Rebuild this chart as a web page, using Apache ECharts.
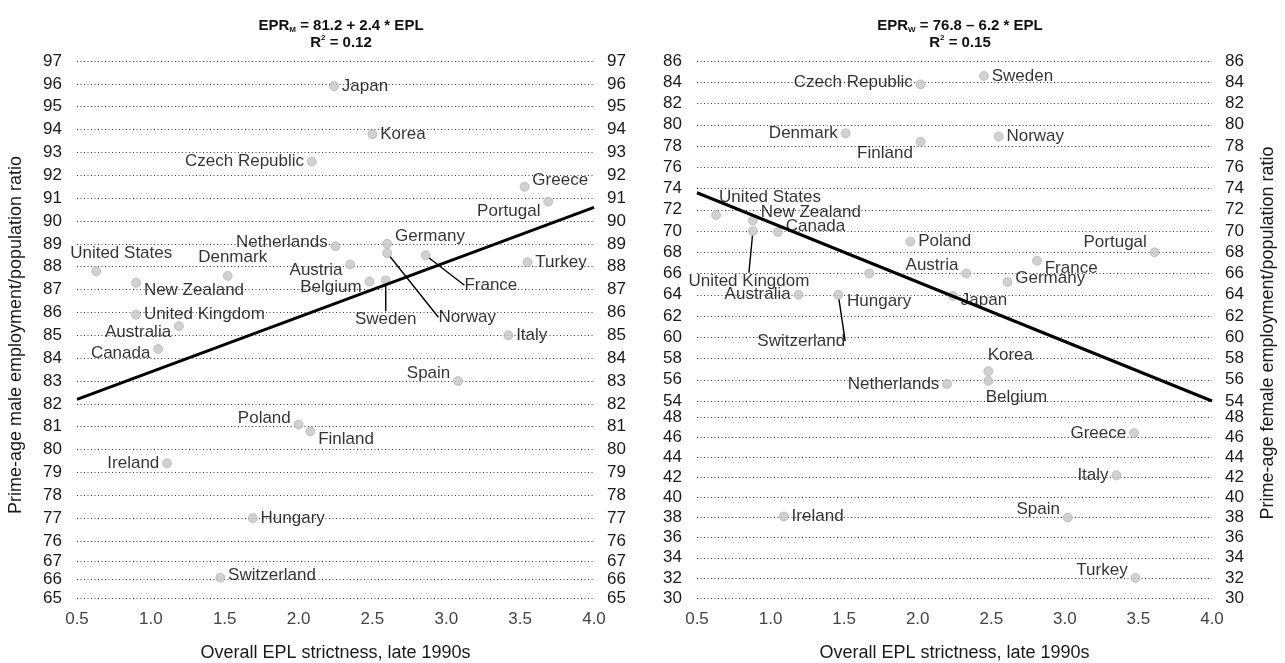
<!DOCTYPE html>
<html><head><meta charset="utf-8">
<script src="https://cdn.jsdelivr.net/npm/echarts@6/dist/echarts.min.js"></script>
<style>html,body{margin:0;padding:0;background:#fff}#c{width:1285px;height:663px}</style>
</head><body><div id="c"></div>
<script>
// ---------- DATA ----------
const countries = ['Japan','Korea','Czech Republic','Greece','Portugal','Netherlands','Germany','France','Turkey','United States','Denmark','Austria','Belgium','Sweden','Norway','New Zealand','United Kingdom','Australia','Italy','Canada','Spain','Poland','Finland','Ireland','Hungary','Switzerland'];
const maleEPL   = [2.24,2.50,2.09,3.53,3.69,2.25,2.60,2.86,3.55,0.63,1.52,2.35,2.48,2.59,2.60,0.90,0.90,1.19,3.42,1.05,3.08,2.00,2.08,1.11,1.69,1.47];
const maleEPR   = [95.9,93.8,92.6,91.5,90.85,88.9,89.0,88.5,88.2,87.8,87.6,88.1,87.35,87.4,88.6,87.3,85.9,85.4,85.0,84.4,83.0,81.1,80.8,79.4,77.0,66.1];
const femaleEPL = [2.24,2.48,2.02,3.47,3.61,2.20,2.61,2.81,3.48,0.63,1.51,2.33,2.48,2.45,2.55,0.88,0.88,1.19,3.35,1.05,3.02,1.95,2.02,1.09,1.67,1.46];
const femaleEPR = [63.9,56.8,83.8,46.4,68.0,55.6,65.2,67.2,32.0,71.5,79.2,66.0,55.9,84.6,78.9,71.0,70.0,64.0,42.2,69.9,38.0,69.0,78.4,38.1,66.0,64.0];
// broken y axes: lower and upper segments, tick step
const maleLowerRange   = [65,67];
const maleUpperRange   = [76,97];
const femaleLowerRange = [30,48];
const femaleUpperRange = [54,86];
const maleStep = 1, femaleStep = 2;
const xRange = [0.5,4.0], xStep = 0.5;
const maleFit   = [[0.5,82.2],[4.0,90.6]];
const femaleFit = [[0.5,73.6],[4.0,54.0]];

// ---------- LABEL LAYOUT (style only) ----------
// [position, dx, dy, guideLine]
const maleLbl = [
 ['right',0,0],['right',0,0],['left',0,0],['right',0,-6],['left',0,10],['left',0,-4],['right',0,-8],['right',31,30,1],
 ['right',0,0],['top',25,-2],['top',5,-2],['left',0,6],['left',0,6],['bottom',0,23,1],['bottom',80,48,1],
 ['right',0,8],['right',0,0],['left',0,6],['right',0,0],['left',0,4],['left',0,-8],['left',0,-6],['right',0,8],
 ['left',0,0],['right',0,0],['right',0,-2]];
const femaleLbl = [
 ['right',0,4],['top',22,0],['left',0,-2],['left',0,0],['left',0,-10],['left',0,0],['right',0,-4],['right',0,8],
 ['left',0,-8],['right',-5,-18],['left',0,0],['left',0,-8],['bottom',28,0],['right',0,0],['right',0,0],
 ['right',0,-8],['bottom',-4,34,1],['left',0,0],['left',0,0],['right',0,-6],['left',0,-8],['right',0,0],['left',0,12],
 ['right',0,0],['bottom',10,12],['bottom',-37,30,1]];

// ---------- helpers ----------
const NARROW = "'Liberation Sans Narrow','Arial Narrow','Liberation Sans',sans-serif";
const SANS = "'Liberation Sans',Arial,sans-serif";

function yAx(gi, range, step, side){
  return {
    type:'value', gridIndex:gi, position:side, min:range[0], max:range[1], interval:step,
    axisLine:{show:false}, axisTick:{show:false},
    axisLabel:{fontFamily:NARROW, fontSize:17, color:'#1a1a1a', margin:side==='left'?15:13},
    splitLine:{show:side==='left', lineStyle:{type:[1,2.5], color:'#3a3a3a', width:1}}
  };
}
function xAx(gi, showLabels){
  return {
    type:'value', gridIndex:gi, min:xRange[0], max:xRange[1], interval:xStep,
    axisLine:{show:false}, axisTick:{show:false}, splitLine:{show:false},
    axisLabel:{show:showLabels, formatter:v=>v.toFixed(1), fontFamily:NARROW, fontSize:17, color:'#444', margin:13},
    name: showLabels ? 'Overall EPL strictness, late 1990s' : '', nameLocation:'middle', nameGap:46,
    nameTextStyle:{fontFamily:SANS, fontSize:18, color:'#1a1a1a'}
  };
}
function scatter(ai, idxs, xs, ys, lbl){
  return {
    type:'scatter', xAxisIndex:ai.x, yAxisIndex:ai.y, symbol:'circle', symbolSize:9, z:3,
    itemStyle:{color:'#c6c6c6', borderColor:'#9a9a9a', borderWidth:0.6},
    data: idxs.map(i=>({
      value:[xs[i], ys[i]], name:countries[i],
      label:{show:true, position:lbl[i][0], distance:3, formatter:countries[i],
             fontFamily:SANS, fontSize:17, color:'#000'},
      labelLine:{show:!!lbl[i][3], lineStyle:{color:'#000', width:1.4}}
    })),
    labelLayout: p => { const L = lbl[idxs[p.dataIndex]]; return {dx:L[1], dy:L[2]}; }
  };
}
function fit(ai, pts){
  return {type:'line', xAxisIndex:ai.x, yAxisIndex:ai.y, symbol:'none', z:4, silent:true,
    lineStyle:{color:'#000', width:3}, data: pts.map(p=>[p[0], p[1]])};
}
const idxAll = countries.map((c,i)=>i);
const maleUp = idxAll.filter(i=>maleEPR[i] >= maleUpperRange[0]);
const maleLo = idxAll.filter(i=>maleEPR[i] <  maleUpperRange[0]);
const femUp  = idxAll.filter(i=>femaleEPR[i] >= femaleUpperRange[0]);
const femLo  = idxAll.filter(i=>femaleEPR[i] <  femaleUpperRange[0]);

const chart = echarts.init(document.getElementById('c'), null, {renderer:'canvas'});
const titleRich = {a:{fontFamily:SANS, fontSize:15, fontWeight:'bold', color:'#111', lineHeight:17},
                   s:{fontFamily:SANS, fontSize:8, fontWeight:'bold', color:'#111', verticalAlign:'bottom', padding:[6,0,0,0]},
                   p:{fontFamily:SANS, fontSize:8, fontWeight:'bold', color:'#111', verticalAlign:'top', padding:[0,0,6,0]}};
chart.setOption({
  animation:false,
  title:[
    {text:'{a|EPR}{s|M}{a| = 81.2 + 2.4 * EPL}\n{a|R}{p|2}{a| = 0.12}', left:336, top:12, textAlign:'center', textStyle:{rich:titleRich}},
    {text:'{a|EPR}{s|W}{a| = 76.8 – 6.2 * EPL}\n{a|R}{p|2}{a| = 0.15}', left:955, top:12, textAlign:'center', textStyle:{rich:titleRich}}
  ],
  grid:[
    {left:77, width:517, top:61, height:480},
    {left:77, width:517, top:561, height:39},
    {left:697, width:515, top:61, height:340},
    {left:697, width:515, top:417, height:183}
  ],
  xAxis:[xAx(0,false), xAx(1,true), xAx(2,false), xAx(3,true)],
  yAxis:[
    yAx(0, maleUpperRange, maleStep, 'left'),   yAx(0, maleUpperRange, maleStep, 'right'),
    yAx(1, maleLowerRange, maleStep, 'left'),   yAx(1, maleLowerRange, maleStep, 'right'),
    yAx(2, femaleUpperRange, femaleStep, 'left'), yAx(2, femaleUpperRange, femaleStep, 'right'),
    yAx(3, femaleLowerRange, femaleStep, 'left'), yAx(3, femaleLowerRange, femaleStep, 'right')
  ],
  graphic:[
    {type:'text', x:16, y:335, rotation:Math.PI/2, style:{text:'Prime-age male employment/population ratio', fontFamily:SANS, fontSize:18, fill:'#1a1a1a', textAlign:'center', textVerticalAlign:'middle'}},
    {type:'text', x:1268, y:333, rotation:Math.PI/2, style:{text:'Prime-age female employment/population ratio', fontFamily:SANS, fontSize:18, fill:'#1a1a1a', textAlign:'center', textVerticalAlign:'middle'}}
  ],
  series:[
    fit({x:0,y:0}, maleFit),
    scatter({x:0,y:0}, maleUp, maleEPL, maleEPR, maleLbl),
    scatter({x:1,y:2}, maleLo, maleEPL, maleEPR, maleLbl),
    fit({x:2,y:4}, femaleFit),
    scatter({x:2,y:4}, femUp, femaleEPL, femaleEPR, femaleLbl),
    scatter({x:3,y:6}, femLo, femaleEPL, femaleEPR, femaleLbl)
  ]
});
</script></body></html>
